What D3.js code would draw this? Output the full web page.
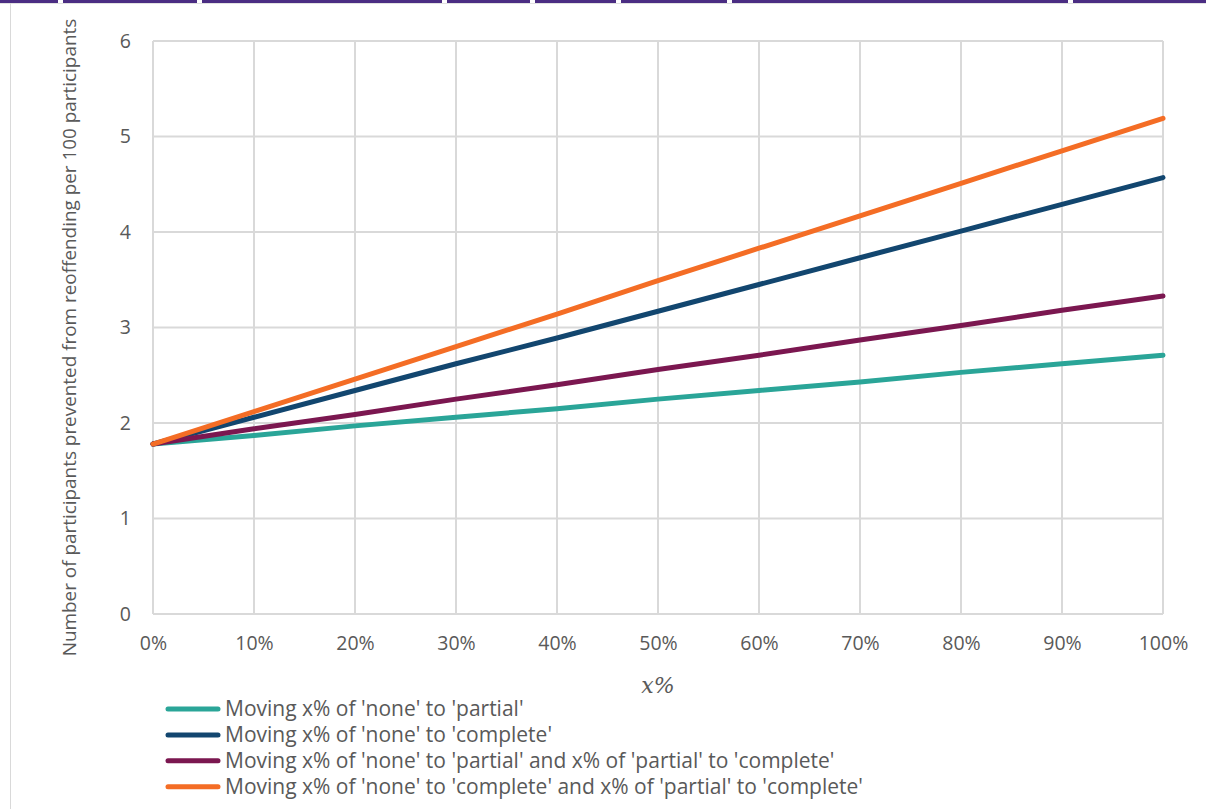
<!DOCTYPE html>
<html>
<head>
<meta charset="utf-8">
<script src="https://cdn.jsdelivr.net/npm/d3@7"></script>
<style>
  html, body { margin: 0; padding: 0; background: #ffffff; }
  svg { display: block; }
  text { font-family: "Open Sans", "Noto Sans", sans-serif; fill: #595959; }
</style>
</head>
<body>
<svg id="chart" width="1206" height="809"></svg>
<script>
// Share of participants moved between engagement levels
const xValues = [0, 10, 20, 30, 40, 50, 60, 70, 80, 90, 100];

// Participants prevented from reoffending per 100 participants
const noneToPartial = [1.78, 1.87, 1.97, 2.06, 2.15, 2.25, 2.34, 2.43, 2.53, 2.62, 2.71];
const noneToComplete = [1.78, 2.06, 2.34, 2.62, 2.89, 3.17, 3.45, 3.73, 4.01, 4.29, 4.57];
const partialAndPartialToComplete = [1.78, 1.94, 2.09, 2.25, 2.40, 2.56, 2.71, 2.87, 3.02, 3.18, 3.33];
const completeAndPartialToComplete = [1.78, 2.12, 2.46, 2.80, 3.14, 3.49, 3.83, 4.17, 4.51, 4.85, 5.19];

const seriesNames = [
  "Moving x% of 'none' to 'partial'",
  "Moving x% of 'none' to 'complete'",
  "Moving x% of 'none' to 'partial' and x% of 'partial' to 'complete'",
  "Moving x% of 'none' to 'complete' and x% of 'partial' to 'complete'"
];
const seriesColors = ["#2aa598", "#12466f", "#7b1750", "#f46d25"];
const seriesValues = [noneToPartial, noneToComplete, partialAndPartialToComplete, completeAndPartialToComplete];

const yTicks = [0, 1, 2, 3, 4, 5, 6];
const xTicks = [0, 10, 20, 30, 40, 50, 60, 70, 80, 90, 100];
const yTitle = "Number of participants prevented from reoffending per 100 participants";
const xTitle = "x%";

const svg = d3.select("#chart");

// Page decoration: coloured rule along the top edge and a faint frame line
const ruleGaps = [58, 197, 442, 530, 616, 727, 1068];
svg.append("rect").attr("x", 0).attr("y", 0).attr("width", 1206).attr("height", 3).attr("fill", "#4b2d83");
svg.selectAll("rect.gap").data(ruleGaps).join("rect")
  .attr("class", "gap").attr("x", d => d).attr("y", 0).attr("width", 5).attr("height", 3).attr("fill", "#ffffff");
svg.append("line").attr("x1", 0).attr("x2", 1206).attr("y1", 3.5).attr("y2", 3.5)
  .attr("stroke", "#e2e2e2").attr("stroke-width", 1);
svg.append("line").attr("x1", 10.5).attr("x2", 10.5).attr("y1", 3).attr("y2", 809)
  .attr("stroke", "#d9d9d9").attr("stroke-width", 1);

const plot = { left: 153, right: 1163, top: 41, bottom: 614 };

const x = d3.scaleLinear().domain([0, 100]).range([plot.left, plot.right]);
const y = d3.scaleLinear().domain([0, 6]).range([plot.bottom, plot.top]);

// Gridlines
const grid = svg.append("g");
grid.selectAll("line.h").data(yTicks).join("line")
  .attr("class", "h")
  .attr("x1", plot.left).attr("x2", plot.right)
  .attr("y1", d => y(d)).attr("y2", d => y(d))
  .attr("stroke", "#d9d9d9").attr("stroke-width", 2);
grid.selectAll("line.v").data(xTicks).join("line")
  .attr("class", "v")
  .attr("x1", d => x(d)).attr("x2", d => x(d))
  .attr("y1", plot.top).attr("y2", plot.bottom)
  .attr("stroke", "#d9d9d9").attr("stroke-width", 2);

// Axes (labels only, lines drawn by the grid)
const yAxis = svg.append("g")
  .attr("transform", `translate(${plot.left},0)`)
  .call(d3.axisLeft(y).tickValues(yTicks).tickFormat(d3.format("d")).tickSize(0).tickPadding(22));
const xAxis = svg.append("g")
  .attr("transform", `translate(0,${plot.bottom})`)
  .call(d3.axisBottom(x).tickValues(xTicks).tickFormat(d => d + "%").tickSize(0).tickPadding(22));
[yAxis, xAxis].forEach(a => {
  a.select(".domain").remove();
  a.selectAll("text").attr("font-size", 19.5).attr("fill", "#595959")
    .style("font-family", "'Open Sans', sans-serif");
});

// Axis titles
svg.append("text")
  .attr("transform", `translate(76,${(plot.top + plot.bottom) / 2 + 10}) rotate(-90)`)
  .attr("text-anchor", "middle")
  .attr("font-size", 18.9)
  .text(yTitle);
svg.append("text")
  .attr("x", 658).attr("y", 693)
  .attr("text-anchor", "middle")
  .attr("font-size", 22)
  .style("font-family", "'DejaVu Serif', 'Liberation Serif', serif")
  .style("font-style", "italic")
  .text(xTitle);

// Series lines
const line = d3.line().x((d, i) => x(xValues[i])).y(d => y(d));
svg.append("g").selectAll("path").data(seriesValues).join("path")
  .attr("d", d => line(d))
  .attr("fill", "none")
  .attr("stroke", (d, i) => seriesColors[i])
  .attr("stroke-width", 5)
  .attr("stroke-linecap", "round")
  .attr("stroke-linejoin", "round");

// Legend
const legend = svg.append("g").attr("transform", "translate(166,709)");
const rows = legend.selectAll("g").data(seriesNames).join("g")
  .attr("transform", (d, i) => `translate(0,${i * 25.9})`);
rows.append("line")
  .attr("x1", 2).attr("x2", 52).attr("y1", 0).attr("y2", 0)
  .attr("stroke", (d, i) => seriesColors[i])
  .attr("stroke-width", 5)
  .attr("stroke-linecap", "round");
rows.append("text")
  .attr("x", 59).attr("y", 0).attr("dy", "0.35em")
  .attr("font-size", 21)
  .text(d => d);
</script>
</body>
</html>
